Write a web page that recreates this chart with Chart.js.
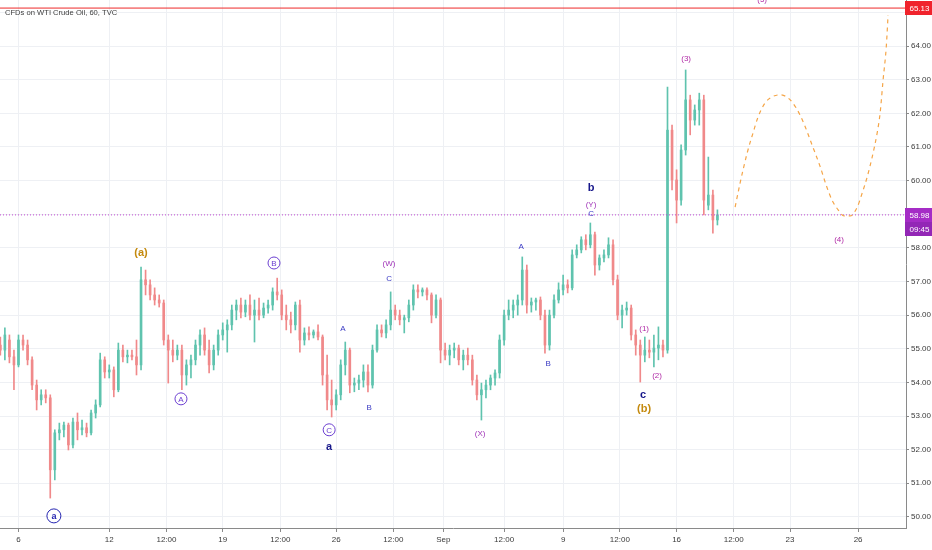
<!DOCTYPE html>
<html><head><meta charset="utf-8">
<script src="https://cdn.jsdelivr.net/npm/chart.js@4.4.1/dist/chart.umd.min.js"></script>
<style>html,body{margin:0;padding:0;background:#fff}#wrap{width:932px;height:550px}</style>
</head><body><div id="wrap"><canvas id="c" width="932" height="550"></canvas></div>
<script>
// ---------- data (hourly CFD bars aggregated, trading-day index on x) ----------
const firstBarDay = -0.8;   // trading-day index of the first bar (Aug 6 = 0)
const barStep = 0.2;        // bars per trading day = 5
const openP = [55.11,54.96,55.26,54.76,54.52,55.26,55.11,54.67,53.92,53.48,53.63,53.54,51.40,52.50,52.59,52.73,52.14,52.82,52.59,52.65,
52.50,53.09,53.33,54.67,54.31,54.37,53.78,54.96,54.76,54.81,54.76,54.52,57.05,56.90,56.60,56.45,56.36,55.26,54.96,54.81,
54.96,54.22,54.52,54.67,55.11,55.41,54.96,54.52,54.96,55.41,55.56,55.71,56.15,56.30,56.09,56.30,56.00,56.15,56.00,56.21,
56.30,56.69,56.60,56.00,55.86,55.71,56.30,55.26,55.47,55.41,55.50,55.35,54.22,53.48,53.33,53.63,54.52,54.96,53.92,53.98,
54.07,54.31,53.92,54.96,55.56,55.47,55.71,56.15,56.00,55.86,55.92,56.30,56.75,56.69,56.75,56.60,56.00,56.45,54.96,54.81,
54.96,55.02,54.67,54.81,54.67,54.07,53.63,53.78,53.92,54.13,54.28,55.26,56.00,56.15,56.30,56.45,57.34,56.30,56.39,56.45,
56.00,55.11,56.00,56.45,56.75,56.90,56.81,57.79,57.94,58.24,58.09,58.39,57.49,57.70,57.79,58.09,57.05,56.00,56.15,56.21,
55.41,55.11,54.81,54.96,54.90,55.02,55.11,54.96,61.50,60.02,59.42,60.91,62.40,61.80,62.10,62.40,59.27,59.57,58.83];
const highP = [55.35,55.62,55.41,54.96,55.41,55.41,55.26,54.76,54.07,53.78,53.78,53.63,52.59,52.79,52.82,52.79,52.94,53.09,52.88,52.79,
53.18,53.48,54.87,54.76,54.52,54.46,55.17,55.11,54.96,54.96,55.26,57.43,57.34,57.05,56.81,56.60,56.45,55.41,55.26,55.11,
55.11,54.67,54.81,55.26,55.56,55.62,55.26,55.11,55.56,55.77,55.86,56.30,56.45,56.51,56.45,56.60,56.45,56.51,56.36,56.45,
56.81,57.10,56.75,56.30,56.09,56.39,56.45,55.62,55.65,55.56,55.71,55.41,54.81,54.07,53.78,54.67,55.20,55.02,54.13,54.22,
54.52,54.52,55.11,55.71,55.71,55.86,56.69,56.30,56.15,56.00,56.45,56.90,56.90,56.81,56.81,56.66,56.60,56.51,55.17,55.11,
55.17,55.11,54.96,55.02,54.81,54.22,53.98,54.07,54.22,54.37,55.41,56.15,56.45,56.45,56.60,57.73,57.49,56.51,56.51,56.54,
56.15,56.15,56.60,56.96,57.19,57.05,57.94,58.09,58.33,58.39,58.74,58.47,57.79,57.94,58.30,58.24,57.19,56.30,56.39,56.30,
55.56,55.26,55.35,55.26,55.41,55.65,55.26,62.78,61.65,60.32,61.06,63.29,62.54,62.25,62.60,62.54,60.70,59.72,59.13];
const lowP = [54.81,54.67,54.58,53.78,54.46,54.96,54.52,53.78,53.18,53.33,53.39,50.56,51.10,52.29,52.38,51.99,52.05,52.29,52.44,52.38,
52.44,52.94,53.27,54.13,54.13,53.57,53.72,54.61,54.58,54.67,54.22,54.37,56.60,56.45,56.30,56.24,55.11,53.98,54.61,54.67,
53.78,53.92,54.13,54.52,54.81,54.81,54.28,54.37,54.81,55.26,54.90,55.56,55.86,55.92,55.95,55.86,55.20,55.86,55.92,56.06,
56.15,56.45,55.86,55.56,55.47,55.56,54.90,55.11,55.26,55.32,55.26,53.92,53.18,52.97,53.18,53.48,54.22,53.69,53.72,53.78,
53.86,53.72,53.83,54.90,55.35,55.32,55.56,55.86,55.71,55.47,55.80,56.15,56.51,56.57,56.45,55.77,55.92,54.58,54.67,54.52,
54.73,54.52,54.37,54.52,53.92,53.48,52.88,53.54,53.78,53.92,54.13,55.11,55.86,55.92,56.00,56.30,56.06,56.09,56.15,55.86,
54.87,54.96,55.92,56.36,56.60,56.66,56.75,57.70,57.85,57.94,58.00,57.19,57.34,57.58,57.70,56.90,55.86,55.62,56.00,55.26,
54.81,54.01,54.61,54.73,54.46,54.67,54.76,54.87,59.72,58.74,59.27,60.76,61.36,61.65,61.65,58.98,59.13,58.44,58.68];
const closeP = [54.96,55.41,54.76,54.52,55.26,55.11,54.67,53.92,53.48,53.63,53.54,51.40,52.50,52.59,52.73,52.14,52.82,52.59,52.65,52.50,
53.09,53.33,54.67,54.31,54.37,53.78,54.96,54.76,54.81,54.76,54.52,57.05,56.90,56.60,56.45,56.36,55.26,54.96,54.81,54.96,
54.22,54.52,54.67,55.11,55.41,54.96,54.52,54.96,55.41,55.56,55.71,56.15,56.30,56.09,56.30,56.00,56.15,56.00,56.21,56.30,
56.69,56.60,56.00,55.86,55.71,56.30,55.26,55.47,55.41,55.50,55.35,54.22,53.48,53.33,53.63,54.52,54.96,53.92,53.98,54.07,
54.31,53.92,54.96,55.56,55.47,55.71,56.15,56.00,55.86,55.92,56.30,56.75,56.69,56.75,56.60,56.00,56.45,54.96,54.81,54.96,
55.02,54.67,54.81,54.67,54.07,53.63,53.78,53.92,54.13,54.28,55.26,56.00,56.15,56.30,56.45,57.34,56.30,56.39,56.45,56.00,
55.11,56.00,56.45,56.75,56.90,56.81,57.79,57.94,58.24,58.09,58.39,57.49,57.70,57.79,58.09,57.05,56.00,56.15,56.21,55.41,
55.11,54.81,54.96,54.90,55.02,55.11,54.96,61.50,60.02,59.42,60.91,62.40,61.80,62.10,62.40,59.42,59.57,58.83,58.98];

// x-axis labels (trading-day positions)
const tickDays = [0,4,6.52,9,11.54,14,16.52,18.72,21.4,24,26.5,29,31.52,34,37];
const tickLabels = ['6','12','12:00','19','12:00','26','12:00','Sep','12:00','9','12:00','16','12:00','23','26'];
const priceTicks = [50,51,52,53,54,55,56,57,58,59,60,61,62,63,64,65];

// horizontal levels
const redLevel = 65.13;
const lastPrice = 58.98;
const countdown = '09:45';

// projected path (dashed)
const projDays = [31.58,31.80,32.11,32.37,32.59,32.90,33.21,33.56,33.91,34.27,34.62,34.97,35.32,35.59,35.85,36.12,36.38,36.65,36.96,37.18,37.40,37.62,37.84,37.97,38.10,38.24,38.32];
const projPrices = [59.21,59.93,60.82,61.42,61.89,62.31,62.49,62.55,62.46,62.16,61.68,61.06,60.43,59.87,59.42,59.13,58.95,58.95,59.21,59.63,60.11,60.70,61.42,62.01,62.99,63.97,64.92];

// wave annotations
const annText = ['a','(a)','A','B','C','a','A','B','(W)','C','(X)','A','B','b','(Y)','C','(1)','(2)','c','(b)','(3)','(4)','(5)'];
const annDay  = [1.56,5.40,7.16,11.26,13.69,13.69,14.30,15.45,16.33,16.33,20.34,22.15,23.34,25.23,25.23,25.23,27.57,28.14,27.52,27.57,29.42,36.16,32.77];
const annPrice= [50.03,57.85,53.51,57.55,52.59,52.08,55.62,53.27,57.55,57.10,52.50,58.06,54.58,59.81,59.30,59.04,55.62,54.22,53.63,53.21,63.65,58.24,65.40];
const annKind = ['circNavy','orange','circPurple','circPurple','circPurple','navy','blue','blue','purple','blue','purple','blue','blue','navy','purple','blue','magenta','magenta','navy','orange','magenta','magenta','magenta'];

// ---------- styles ----------
const UP = '#5fc3ae', DOWN = '#f0898a';
const kindStyle = {
  circNavy:  {color:'#2424b0', font:'bold 9px "Liberation Sans"', circle:7},
  circPurple:{color:'#6b3fd0', font:'8px "Liberation Sans"', circle:6},
  navy:      {color:'#16168a', font:'bold 11px "Liberation Sans"'},
  orange:    {color:'#c48a0e', font:'bold 11px "Liberation Sans"'},
  blue:      {color:'#3a3ac4', font:'8px "Liberation Sans"'},
  purple:    {color:'#a033b8', font:'8px "Liberation Sans"'},
  magenta:   {color:'#b02aa6', font:'8px "Liberation Sans"'}
};

const barX = openP.map((_, i) => firstBarDay + barStep * i);
const isUp = openP.map((o, i) => closeP[i] >= o);
const candleColors = isUp.map(u => u ? UP : DOWN);

const xMin = -0.815, xMax = 39.11;

const overlay = {
  id: 'overlay',
  afterDatasetsDraw(chart) {
    const {ctx, scales:{x, y}} = chart;
    ctx.save();
    ctx.textAlign = 'center';
    ctx.textBaseline = 'middle';
    annText.forEach((t, i) => {
      const st = kindStyle[annKind[i]];
      const px = x.getPixelForValue(annDay[i]);
      const py = y.getPixelForValue(annPrice[i]);
      ctx.font = st.font;
      ctx.fillStyle = st.color;
      if (st.circle) {
        ctx.beginPath();
        ctx.arc(px, py, st.circle, 0, Math.PI * 2);
        ctx.fillStyle = '#fff';
        ctx.fill();
        ctx.strokeStyle = st.color;
        ctx.lineWidth = 1;
        ctx.stroke();
        ctx.fillStyle = st.color;
      }
      ctx.fillText(t, px, py + 0.5);
    });
    // title
    ctx.textAlign = 'left';
    ctx.textBaseline = 'alphabetic';
    ctx.font = '7.6px "Liberation Sans"';
    ctx.fillStyle = '#3c3c3c';
    ctx.fillText('CFDs on WTI Crude Oil, 60, TVC', 5, 15);
    ctx.restore();
  },
  afterDraw(chart) {
    const {ctx, scales:{y}} = chart;
    const left = y.left - 1, w = chart.width - left;
    ctx.save();
    ctx.textAlign = 'center';
    ctx.textBaseline = 'middle';
    ctx.font = '8px "Liberation Sans"';
    const box = (val, fill, text, dy) => {
      const cy = y.getPixelForValue(val) + dy;
      ctx.fillStyle = fill;
      ctx.fillRect(left, Math.round(cy - 7), w, 14);
      ctx.fillStyle = '#fff';
      ctx.fillText(text, left + w / 2 + 1, cy + 0.5);
    };
    box(redLevel, '#f0232c', redLevel.toFixed(2), 0);
    box(lastPrice, '#a52cc6', lastPrice.toFixed(2), 0);
    box(lastPrice, '#9327b6', countdown, 14);
    ctx.restore();
  }
};

new Chart(document.getElementById('c'), {
  type: 'bar',
  data: {
    datasets: [
      { label:'wick', data: barX.map((d, i) => ({x: d, y: [lowP[i], highP[i]]})),
        backgroundColor: candleColors, barThickness: 1, grouped: false, order: 3 },
      { label:'body', data: barX.map((d, i) => ({x: d, y: [openP[i], closeP[i]]})),
        backgroundColor: candleColors, barThickness: 2, minBarLength: 1, grouped: false, order: 2 },
      { type:'line', label:'level', data: [{x:xMin, y:redLevel},{x:xMax, y:redLevel}],
        borderColor:'#ee2a2a', borderWidth:1, pointRadius:0, order: 1 },
      { type:'line', label:'last', data: [{x:xMin, y:lastPrice},{x:xMax, y:lastPrice}],
        borderColor:'#c048d0', borderWidth:1, borderDash:[1,2], pointRadius:0, order: 1 },
      { type:'line', label:'projection', data: projDays.map((d, i) => ({x: d, y: projPrices[i]})),
        borderColor:'#f5a547', borderWidth:1.2, borderDash:[4,4], pointRadius:0,
        cubicInterpolationMode:'monotone', order: 0 }
    ]
  },
  options: {
    responsive: false,
    animation: false,
    devicePixelRatio: 1,
    layout: { padding: 0 },
    plugins: { legend:{display:false}, tooltip:{enabled:false} },
    scales: {
      x: {
        type: 'linear', min: xMin, max: xMax, offset: false,
        afterBuildTicks: s => { s.ticks = tickDays.map(v => ({value: v})); },
        afterFit: s => { s.height = 22; s.paddingLeft = 0; s.paddingRight = 0; },
        grid: { color:'#eef0f4', offset:false, tickLength:4, tickColor:'#8a8a8a' },
        border: { color:'#8a8a8a' },
        ticks: { autoSkip:false, maxRotation:0, padding:3, color:'#3a3a3a',
                 font:{family:'Liberation Sans', size:8},
                 callback: (v, i) => tickLabels[i] }
      },
      y: {
        position: 'right', min: 49.67, max: 65.37,
        afterBuildTicks: s => { s.ticks = priceTicks.map(v => ({value: v})); },
        afterFit: s => { s.width = 26; s.paddingTop = 0; s.paddingBottom = 0; },
        grid: { color:'#eef0f4', tickLength:3, tickColor:'#8a8a8a' },
        border: { color:'#8a8a8a' },
        ticks: { padding:2, color:'#3a3a3a', font:{family:'Liberation Sans', size:8},
                 callback: v => Number(v).toFixed(2) }
      }
    }
  },
  plugins: [overlay]
});
</script></body></html>
